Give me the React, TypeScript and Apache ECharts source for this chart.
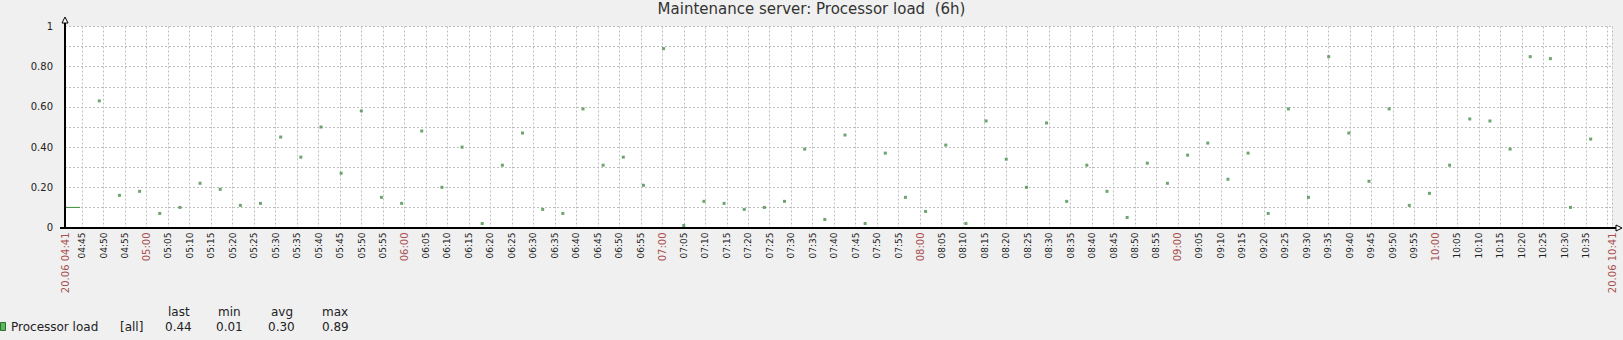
import React, { useEffect, useRef } from 'react';
import * as echarts from 'echarts';

const TITLE = 'Maintenance server: Processor load  (6h)';
const SERIES_NAME = 'Processor load';
const SERIES_SCOPE = '[all]';
const START_LABEL = '20.06 04:41';
const END_LABEL = '20.06 10:41';
const START_MINUTE_OF_DAY = 281; // 04:41
const SPAN_MIN = 360; // 6h

// samples: minutes after 04:41
const FIRST_SAMPLE_MIN = 7.98;
const SAMPLE_STEP_MIN = 4.69;
const loadValues = [
  0.63, 0.16, 0.18, 0.07, 0.10, 0.22, 0.19, 0.11, 0.12, 0.45,
  0.35, 0.50, 0.27, 0.58, 0.15, 0.12, 0.48, 0.20, 0.40, 0.02,
  0.31, 0.47, 0.09, 0.07, 0.59, 0.31, 0.35, 0.21, 0.89, 0.01,
  0.13, 0.12, 0.09, 0.10, 0.13, 0.39, 0.04, 0.46, 0.02, 0.37,
  0.15, 0.08, 0.41, 0.02, 0.53, 0.34, 0.20, 0.52, 0.13, 0.31,
  0.18, 0.05, 0.32, 0.22, 0.36, 0.42, 0.24, 0.37, 0.07, 0.59,
  0.15, 0.85, 0.47, 0.23, 0.59, 0.11, 0.17, 0.31, 0.54, 0.53,
  0.39, 0.85, 0.84, 0.10, 0.44,
];
// short leading line at the start of the period (minutes, value)
const leadSegment = [
  [0, 0.1],
  [3.5, 0.1],
];

const legendHeaders = ['last', 'min', 'avg', 'max'];
const legendValues = ['0.44', '0.01', '0.30', '0.89'];

const FONT = 'DejaVu Sans';
const W = 1623;
const H = 340;
const PLOT_LEFT = 65;
const PLOT_RIGHT = 1612;
const PLOT_TOP = 26.5;
const PLOT_BOTTOM = 227.5;

function xTickValues(): number[] {
  const out: number[] = [0];
  for (let m = 1; m < SPAN_MIN; m++) {
    if ((START_MINUTE_OF_DAY + m) % 5 === 0) out.push(m);
  }
  out.push(SPAN_MIN);
  return out;
}

function pad(n: number) {
  return n < 10 ? '0' + n : '' + n;
}

export default function App() {
  const ref = useRef<HTMLDivElement>(null);

  useEffect(() => {
    if (!ref.current) return;
    const chart = echarts.init(ref.current, undefined, { renderer: 'svg' });
    const ticks = xTickValues();
    const points = loadValues.map((v, i) => [FIRST_SAMPLE_MIN + i * SAMPLE_STEP_MIN, v]);

    const legendX = [168, 218, 271, 322];
    const legendVX = [165, 216, 268, 322];

    const graphic: any[] = [
      // axes with arrows
      { type: 'line', shape: { x1: PLOT_LEFT, y1: PLOT_BOTTOM + 0.5, x2: PLOT_LEFT, y2: 22 }, style: { stroke: '#000', lineWidth: 2 }, z: 10 },
      { type: 'polygon', shape: { points: [[PLOT_LEFT - 3, 23], [PLOT_LEFT + 3, 23], [PLOT_LEFT, 17]] }, style: { fill: '#fff', stroke: '#000', lineWidth: 1 }, z: 11 },
      { type: 'line', shape: { x1: 60, y1: PLOT_BOTTOM + 0.5, x2: 1617, y2: PLOT_BOTTOM + 0.5 }, style: { stroke: '#000', lineWidth: 2 }, z: 10 },
      { type: 'polygon', shape: { points: [[1616, PLOT_BOTTOM - 2.5], [1616, PLOT_BOTTOM + 3.5], [1622, PLOT_BOTTOM + 0.5]] }, style: { fill: '#fff', stroke: '#000', lineWidth: 1 }, z: 11 },
      // legend
      { type: 'rect', shape: { x: 0.5, y: 322.5, width: 5, height: 8 }, style: { fill: '#5cb85c', stroke: '#2f6f2f', lineWidth: 1 }, z: 10 },
      { type: 'text', x: 11, y: 326.5, style: { text: SERIES_NAME, fontSize: 12, fontFamily: FONT, fill: '#222', verticalAlign: 'middle', align: 'left' }, z: 10 },
      { type: 'text', x: 120, y: 326.5, style: { text: SERIES_SCOPE, fontSize: 12, fontFamily: FONT, fill: '#222', verticalAlign: 'middle', align: 'left' }, z: 10 },
    ];
    legendHeaders.forEach((h, i) => {
      graphic.push({ type: 'text', x: legendX[i], y: 312, style: { text: h, fontSize: 12, fontFamily: FONT, fill: '#222', verticalAlign: 'middle', align: 'left' }, z: 10 });
    });
    legendValues.forEach((v, i) => {
      graphic.push({ type: 'text', x: legendVX[i], y: 326.5, style: { text: v, fontSize: 12, fontFamily: FONT, fill: '#222', verticalAlign: 'middle', align: 'left' }, z: 10 });
    });

    chart.setOption({
      animation: false,
      backgroundColor: '#f0f0f0',
      textStyle: { fontFamily: FONT },
      title: {
        text: TITLE,
        left: 'center',
        top: 1,
        padding: 0,
        textStyle: { fontSize: 15, fontWeight: 'normal', color: '#333', fontFamily: FONT },
      },
      grid: {
        left: PLOT_LEFT,
        right: W - PLOT_RIGHT,
        top: PLOT_TOP,
        bottom: H - PLOT_BOTTOM,
        show: true,
        backgroundColor: '#ffffff',
        borderWidth: 0,
        containLabel: false,
        outerBoundsMode: 'none',
      },
      xAxis: {
        type: 'value',
        min: 0,
        max: SPAN_MIN,
        axisLine: { show: false },
        axisTick: { show: false, customValues: ticks },
        splitLine: { show: true, lineStyle: { color: '#bdbdbd', type: [2, 2], width: 1 } },
        axisLabel: {
          customValues: ticks,
          rotate: 90,
          margin: 5,
          showMinLabel: true,
          showMaxLabel: true,
          formatter: (value: number) => {
            const m = Math.round(value);
            if (m === 0) return '{major|' + START_LABEL + '}';
            if (m === SPAN_MIN) return '{major|' + END_LABEL + '}';
            const t = START_MINUTE_OF_DAY + m;
            const hh = Math.floor(t / 60);
            const mm = t % 60;
            const s = pad(hh) + ':' + pad(mm);
            return mm === 0 ? '{major|' + s + '}' : '{minor|' + s + '}';
          },
          rich: {
            major: { color: '#a85050', fontSize: 10, fontFamily: FONT },
            minor: { color: '#222', fontSize: 9, fontFamily: FONT },
          },
        },
      },
      yAxis: {
        type: 'value',
        min: 0,
        max: 1,
        interval: 0.1,
        axisLine: { show: false },
        axisTick: { show: false },
        splitLine: { show: true, lineStyle: { color: '#bdbdbd', type: [2, 2], width: 1 } },
        axisLabel: {
          margin: 12,
          color: '#222',
          fontSize: 10,
          fontFamily: FONT,
          formatter: (v: number) => {
            const t = Math.round(v * 10);
            if (t === 0) return '0';
            if (t === 10) return '1';
            return t % 2 === 0 ? v.toFixed(2) : '';
          },
        },
      },
      series: [
        {
          type: 'line',
          name: SERIES_NAME + ' lead',
          data: leadSegment,
          showSymbol: false,
          lineStyle: { color: '#3d8f3d', width: 1 },
          silent: true,
        },
        {
          type: 'scatter',
          name: SERIES_NAME,
          data: points,
          symbol: 'rect',
          symbolSize: 3,
          itemStyle: { color: '#4a8f4a' },
          silent: true,
        },
      ],
      graphic,
    });
    return () => chart.dispose();
  }, []);

  return <div ref={ref} style={{ position: 'absolute', left: 0, top: 0, width: W, height: H }} />;
}
